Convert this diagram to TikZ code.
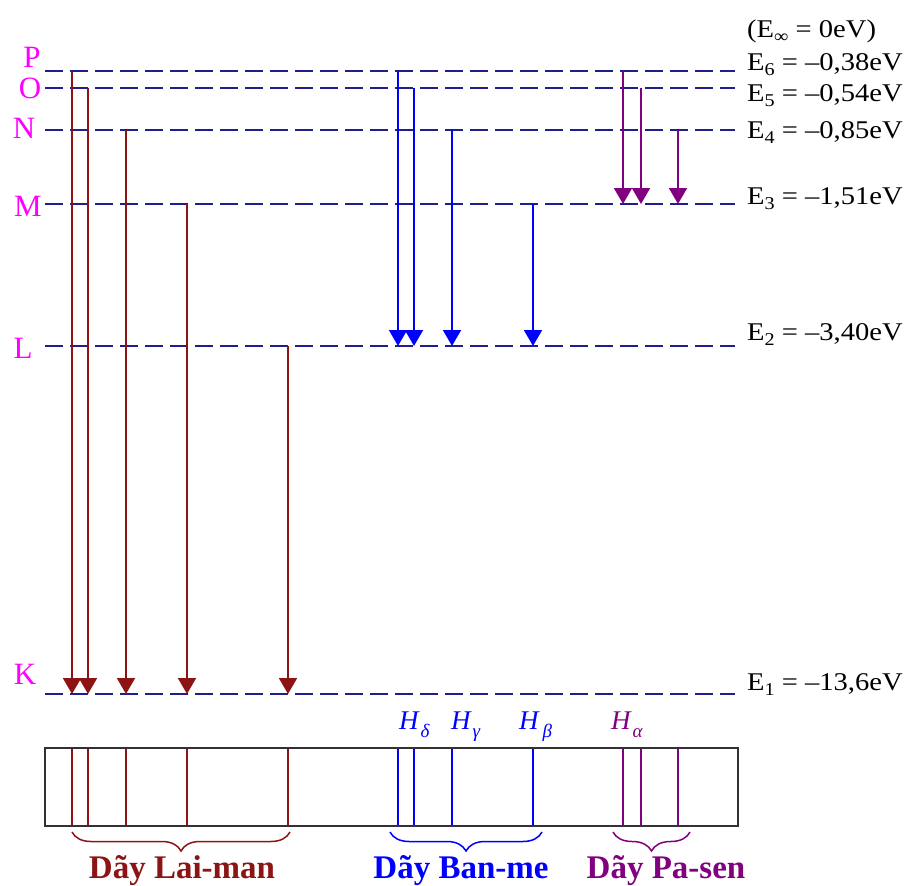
\documentclass[tikz,border=0pt]{standalone}
\usepackage{fontspec}
\setmainfont{Liberation Serif}
\usetikzlibrary{arrows.meta,decorations.pathreplacing}
\definecolor{lvlblue}{RGB}{30,30,140}
\definecolor{lyc}{RGB}{140,20,20}
\definecolor{bac}{RGB}{0,0,255}
\definecolor{pac}{RGB}{128,0,128}
\definecolor{magc}{RGB}{255,0,255}
\definecolor{boxc}{RGB}{50,50,50}
\newcommand{\esub}[1]{\raisebox{-0.22em}{\fontsize{18}{18}\selectfont #1}}
\newcommand{\hsub}[1]{\raisebox{-0.3em}{\fontsize{19}{19}\selectfont\itshape #1}}
\newcommand{\elab}[1]{\scalebox{1.12}[1]{#1}}
\tikzset{
  level/.style={lvlblue,line width=2pt,dash pattern=on 18pt off 7pt},
  trans/.style={line width=1.8pt,-{Triangle[width=18pt,length=16pt]}},
  specline/.style={line width=1.6pt},
  shell/.style={magc,inner sep=0pt,font=\fontsize{31}{32}\selectfont},
  elabel/.style={anchor=base west,inner sep=0pt,font=\fontsize{25.5}{27}\selectfont},
  hlabel/.style={anchor=base west,inner sep=0pt,font=\fontsize{27}{28}\selectfont\itshape},
  seriesbrace/.style={decorate,decoration={brace,mirror,amplitude=19pt},line width=1.5pt},
  serieslabel/.style={anchor=base,inner sep=0pt,font=\fontsize{33}{34}\selectfont\bfseries}
}
\begin{document}
\begin{tikzpicture}[x=1pt,y=-1pt]
\useasboundingbox (0,0) rectangle (914,886);
\fill[white] (0,0) rectangle (914,886);

% energy levels
\foreach \n/\y in {P/71,O/88,N/130,M/204,L/346,K/694}{
  \coordinate (lv\n a) at (45,\y);
  \coordinate (lv\n b) at (735,\y);
  \draw[level] (lv\n a) -- (lv\n b);
}

% shell letters
\node[shell] (sP) at (32,57) {P};
\node[shell] (sO) at (30,88) {O};
\node[shell] (sN) at (24,128) {N};
\node[shell] (sM) at (28,206) {M};
\node[shell] (sL) at (23,348) {L};
\node[shell] (sK) at (25,674) {K};

% energy labels
\node[elabel] (eInf) at (747,37) {\elab{(E\esub{∞} = 0eV)}};
\node[elabel] (e6) at (747,70) {\elab{E\esub{6} = –0,38eV}};
\node[elabel] (e5) at (747,101) {\elab{E\esub{5} = –0,54eV}};
\node[elabel] (e4) at (747,138) {\elab{E\esub{4} = –0,85eV}};
\node[elabel] (e3) at (747,204) {\elab{E\esub{3} = –1,51eV}};
\node[elabel] (e2) at (747,340) {\elab{E\esub{2} = –3,40eV}};
\node[elabel] (e1) at (747,690) {\elab{E\esub{1} = –13,6eV}};

% Lyman transitions
\foreach \i/\x/\y in {1/72/71,2/88/88,3/126/130,4/187/204,5/288/346}{
  \coordinate (lyS\i) at (\x,\y);
  \coordinate (lyE\i) at (\x,694);
  \draw[trans,lyc] (lyS\i) -- (lyE\i);
  \coordinate (lyT\i) at (\x,748);
  \coordinate (lyB\i) at (\x,826);
}
% Balmer transitions
\foreach \i/\x/\y in {1/398/71,2/414/88,3/452/130,4/533/204}{
  \coordinate (baS\i) at (\x,\y);
  \coordinate (baE\i) at (\x,346);
  \draw[trans,bac] (baS\i) -- (baE\i);
  \coordinate (baT\i) at (\x,748);
  \coordinate (baB\i) at (\x,826);
}
% Paschen transitions
\foreach \i/\x/\y in {1/623/71,2/641/88,3/678/130}{
  \coordinate (paS\i) at (\x,\y);
  \coordinate (paE\i) at (\x,204);
  \draw[trans,pac] (paS\i) -- (paE\i);
  \coordinate (paT\i) at (\x,748);
  \coordinate (paB\i) at (\x,826);
}

% spectrum box
\coordinate (boxNW) at (45,748);
\coordinate (boxSE) at (738,826);
\foreach \i in {1,...,5}{\draw[specline,lyc] (lyT\i) -- (lyB\i);}
\foreach \i in {1,...,4}{\draw[specline,bac] (baT\i) -- (baB\i);}
\foreach \i in {1,...,3}{\draw[specline,pac] (paT\i) -- (paB\i);}
\draw[boxc,line width=1.8pt] (boxNW) rectangle (boxSE);

% line labels
\node[hlabel,bac] (hd) at (399,729) {H\hspace{2pt}\hsub{δ}};
\node[hlabel,bac] (hg) at (451,729) {H\hspace{2pt}\hsub{γ}};
\node[hlabel,bac] (hb) at (519,729) {H\hspace{4pt}\hsub{β}};
\node[hlabel,pac] (ha) at (611,729) {H\hspace{2pt}\hsub{α}};

% braces
\coordinate (lyBrL) at (72,832);
\coordinate (lyBrR) at (290,832);
\coordinate (baBrL) at (390,832);
\coordinate (baBrR) at (542,832);
\coordinate (paBrL) at (613,832);
\coordinate (paBrR) at (690,832);
\draw[seriesbrace,lyc] (lyBrL) -- (lyBrR);
\draw[seriesbrace,bac] (baBrL) -- (baBrR);
\draw[seriesbrace,pac] (paBrL) -- (paBrR);

\node[serieslabel,lyc] (lyman) at (182,878) {Dãy Lai-man};
\node[serieslabel,bac] (balmer) at (461,878) {Dãy Ban-me};
\node[serieslabel,pac] (paschen) at (666,878) {Dãy Pa-sen};
\end{tikzpicture}
\end{document}
